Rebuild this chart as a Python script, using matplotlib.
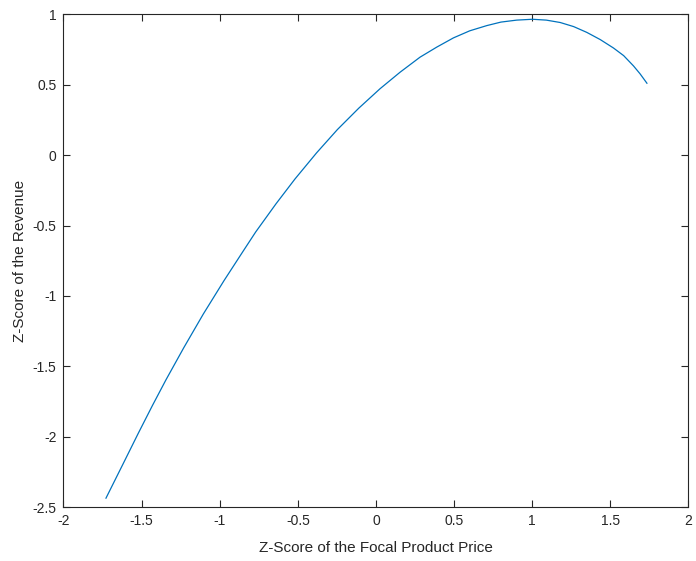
import matplotlib
matplotlib.use("Agg")
import matplotlib.pyplot as plt

price_z = [-1.728, -1.620, -1.521, -1.430, -1.344, -1.230, -1.105, -0.972, -0.849,
           -0.770, -0.640, -0.518, -0.380, -0.247, -0.110, 0.026, 0.154, 0.282,
           0.390, 0.496, 0.600, 0.709, 0.800, 0.901, 1.001, 1.090, 1.179, 1.265,
           1.349, 1.435, 1.520, 1.585, 1.648, 1.690, 1.734]
revenue_z = [-2.435, -2.195, -1.974, -1.776, -1.595, -1.367, -1.128, -0.890, -0.680,
             -0.546, -0.346, -0.169, 0.016, 0.181, 0.333, 0.471, 0.588, 0.695,
             0.767, 0.832, 0.882, 0.919, 0.944, 0.958, 0.964, 0.958, 0.941, 0.912,
             0.871, 0.820, 0.760, 0.706, 0.633, 0.577, 0.510]

xticks = [-2, -1.5, -1, -0.5, 0, 0.5, 1, 1.5, 2]
yticks = [-2.5, -2, -1.5, -1, -0.5, 0, 0.5, 1]

plt.rcParams['font.family'] = ['Liberation Sans', 'DejaVu Sans']
fig = plt.figure(figsize=(6.96, 5.61), dpi=100)
ax = fig.add_axes([0.0912, 0.0957, 0.898, 0.879])
ax.plot(price_z, revenue_z, color='#0072BD', lw=0.9, solid_joinstyle='round')
ax.set_xlim(-2, 2)
ax.set_ylim(-2.5, 1)
ax.set_xticks(xticks)
ax.set_yticks(yticks)
ax.set_xticklabels([f"{t:g}" for t in xticks])
ax.set_yticklabels([f"{t:g}" for t in yticks])
axc = '#262626'
for s in ax.spines.values():
    s.set_color(axc)
    s.set_linewidth(0.8)
ax.tick_params(direction='in', length=5, width=0.8, color=axc, labelcolor=axc,
               labelsize=10, top=True, right=True, pad=5)
ax.set_xlabel('Z-Score of the Focal Product Price', fontsize=11, color=axc, labelpad=9)
ax.set_ylabel('Z-Score of the Revenue', fontsize=11, color=axc, labelpad=4)
fig.savefig('out.png', dpi=100)
